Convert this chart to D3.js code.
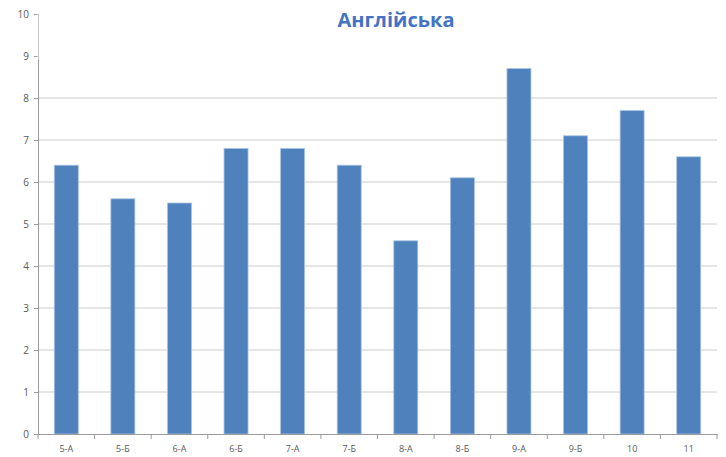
<!DOCTYPE html>
<html>
<head>
<meta charset="utf-8">
<script src="https://cdn.jsdelivr.net/npm/d3@7"></script>
<style>
  body { margin: 0; background: #fff; }
  text { font-family: "Open Sans", "Liberation Sans", sans-serif; }
</style>
</head>
<body>
<svg id="chart" width="726" height="457"></svg>
<script>
var categories = ['5-А', '5-Б', '6-А', '6-Б', '7-А', '7-Б', '8-А', '8-Б', '9-А', '9-Б', '10', '11'];
var values = [6.4, 5.6, 5.5, 6.8, 6.8, 6.4, 4.6, 6.1, 8.7, 7.1, 7.7, 6.6];
var yTicks = [0, 1, 2, 3, 4, 5, 6, 7, 8, 9, 10];
var title = 'Англійська';

var margin = { left: 38, right: 9, top: 14, bottom: 23 };
var width = 726, height = 457;

var svg = d3.select('#chart');

var x = d3.scaleBand()
    .domain(categories)
    .range([margin.left, width - margin.right])
    .paddingInner(0.576)
    .paddingOuter(0.288);

var y = d3.scaleLinear()
    .domain([0, 10])
    .range([height - margin.bottom, margin.top]);

// gridlines
svg.append('g')
    .selectAll('line')
    .data(yTicks.filter(function(d) { return d > 0; }))
    .enter().append('line')
    .attr('x1', margin.left)
    .attr('x2', width - margin.right)
    .attr('y1', function(d) { return y(d); })
    .attr('y2', function(d) { return y(d); })
    .attr('stroke', '#cccccc')
    .attr('stroke-width', 1);

// bars
svg.append('g')
    .selectAll('rect')
    .data(values)
    .enter().append('rect')
    .attr('x', function(d, i) { return x(categories[i]); })
    .attr('width', x.bandwidth())
    .attr('y', function(d) { return y(d); })
    .attr('height', function(d) { return y(0) - y(d); })
    .attr('fill', '#4f81bd')
    .attr('stroke', '#a9c3e3')
    .attr('stroke-width', 0.8);

// y axis
var yAxis = svg.append('g')
    .attr('transform', 'translate(' + margin.left + ',0)')
    .call(d3.axisLeft(y).tickValues(yTicks).tickSize(4).tickPadding(5));
yAxis.select('.domain').attr('stroke', '#9a9a9a');
yAxis.selectAll('.tick line').attr('stroke', '#9a9a9a');
yAxis.selectAll('.tick text').attr('fill', '#595959').style('font-size', '10px');

// x axis
var xAxis = svg.append('g')
    .attr('transform', 'translate(0,' + y(0) + ')')
    .call(d3.axisBottom(x).tickSize(0).tickPadding(12));
xAxis.select('.domain').attr('stroke', '#9a9a9a');
xAxis.selectAll('.tick text').attr('fill', '#595959').style('font-size', '9px');

var step = x.step();
var bounds = d3.range(categories.length + 1).map(function(i) { return margin.left + i * step; });
xAxis.selectAll('.sep')
    .data(bounds)
    .enter().append('line')
    .attr('x1', function(d) { return d; })
    .attr('x2', function(d) { return d; })
    .attr('y1', 0)
    .attr('y2', 5)
    .attr('stroke', '#9a9a9a');

// title box covering top of plot
svg.append('rect')
    .attr('x', margin.left + 1)
    .attr('y', 0)
    .attr('width', width - margin.left)
    .attr('height', 60)
    .attr('fill', '#fff')
    .attr('opacity', 0.985);

svg.append('rect')
    .attr('x', margin.left - 0.5)
    .attr('y', 0)
    .attr('width', 1)
    .attr('height', 60)
    .attr('fill', '#fff')
    .attr('opacity', 0.9);

svg.append('text')
    .attr('x', 396)
    .attr('y', 27)
    .attr('text-anchor', 'middle')
    .attr('fill', '#4472c4')
    .style('font-size', '20px')
    .style('font-weight', 'bold')
    .text(title);
</script>
</body>
</html>
